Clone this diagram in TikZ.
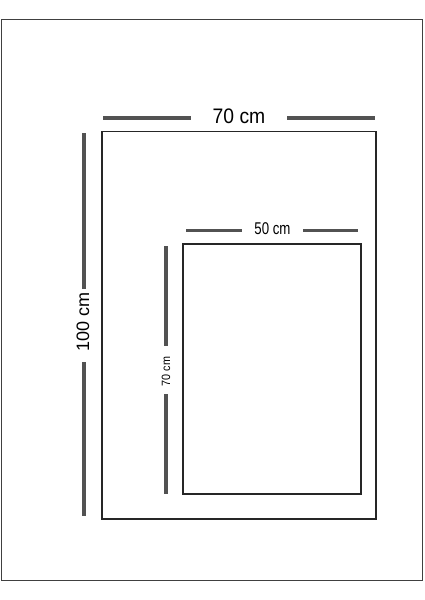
\documentclass[tikz,border=0pt]{standalone}
\usepackage{fontspec}
\setmainfont{Liberation Sans}
\begin{document}
\begin{tikzpicture}[x=1pt,y=-1pt,
  frame/.style={draw=black!85,line width=1.4pt},
  bar/.style={draw=black!68,line width=4pt},
  lbl/.style={inner sep=0pt,text=black}]
\useasboundingbox (0,0) rectangle (424,600);

% outer border
\draw [frame,draw=black!75] (1.5,19.5) rectangle (422.5,580.5);

% big frame, 70 x 100
\draw [frame] (102,131.5) rectangle (376,519);
\node (w70) at (239,116) [lbl,font=\fontsize{21}{21}\selectfont,xscale=.92] {70 cm};
\draw [bar] (103,118) -- (191,118);
\draw [bar] (287,118) -- (375,118);
\node (h100) at (83,322) [lbl,rotate=90,font=\fontsize{18}{18}\selectfont] {100 cm};
\draw [bar] (84,133) -- (84,289);
\draw [bar] (84,362) -- (84,516);

% small frame, 50 x 70
\draw [frame] (183,244) rectangle (361,494);
\node (w50) at (272.5,229) [lbl,font=\fontsize{17}{17}\selectfont,xscale=.78] {50 cm};
\draw [bar,line width=3.6pt] (186,230.5) -- (242,230.5);
\draw [bar,line width=3.6pt] (303,230.5) -- (358,230.5);
\node (h70) at (166,371.5) [lbl,rotate=90,font=\fontsize{12}{12}\selectfont,xscale=.9] {70 cm};
\draw [bar,line width=3.6pt] (166,246) -- (166,346);
\draw [bar,line width=3.6pt] (166,394) -- (166,494);

\end{tikzpicture}
\end{document}
